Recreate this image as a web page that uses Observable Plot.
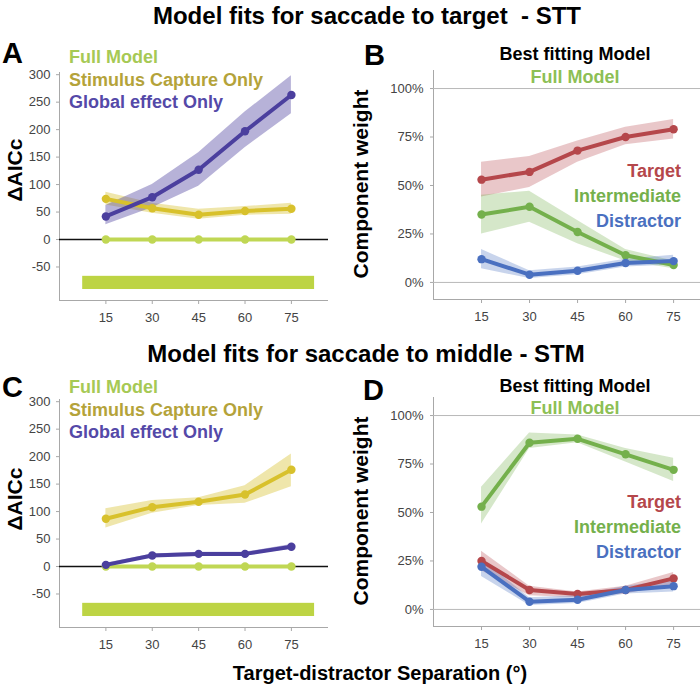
<!DOCTYPE html>
<html>
<head>
<meta charset="utf-8">
<script src="https://cdn.jsdelivr.net/npm/d3@7"></script>
<script src="https://cdn.jsdelivr.net/npm/@observablehq/plot@0.6"></script>
<style>
  body { margin: 0; background: #fff; }
  #fig { position: relative; width: 700px; height: 688px; font-family: "Liberation Sans", Arial, sans-serif; }
  #fig .panel { position: absolute; }
  #overlay { position: absolute; left: 0; top: 0; pointer-events: none; }
  #overlay text { font-family: "Liberation Sans", Arial, sans-serif; font-weight: bold; white-space: pre; }
</style>
</head>
<body>
<div id="fig"></div>
<script>
// ---------- data ----------
const separations = [15, 30, 45, 60, 75];
const aicTicks = [-50, 0, 50, 100, 150, 200, 250, 300];
const weightTicks = [0, 25, 50, 75, 100];

// Panel A: saccade to target (STT), ΔAICc
const sttFull = [0, 0, 0, 0, 0];
const sttCapture = [74, 57, 45, 52, 56];
const sttCaptureLo = [63, 48, 37, 44, 46];
const sttCaptureHi = [86, 66, 55, 60, 66];
const sttGlobal = [42, 77, 127, 197, 263];
const sttGlobalLo = [27, 58, 97, 167, 229];
const sttGlobalHi = [62, 100, 158, 232, 298];

// Panel B: STT component weights (%)
const sttTarget = [53, 57, 68, 75, 79];
const sttTargetLo = [44, 49, 62, 71, 74];
const sttTargetHi = [62, 65, 73, 80, 84];
const sttInter = [35, 39, 26, 14, 9];
const sttInterLo = [25, 31, 20, 11, 7];
const sttInterHi = [45, 47, 32, 17, 11];
const sttDist = [12, 4, 6, 10, 11];
const sttDistLo = [7, 2, 4, 8, 9];
const sttDistHi = [17, 6, 8, 12, 14];

// Panel C: saccade to middle (STM), ΔAICc
const stmFull = [0, 0, 0, 0, 0];
const stmCapture = [87, 108, 118, 131, 176];
const stmCaptureLo = [70, 97, 111, 115, 145];
const stmCaptureHi = [105, 120, 125, 147, 205];
const stmGlobal = [3, 20, 23, 23, 36];
const stmGlobalLo = [0, 17, 20, 20, 32];
const stmGlobalHi = [6, 23, 26, 26, 40];

// Panel D: STM component weights (%)
const stmTarget = [25, 10, 8, 10, 16];
const stmTargetLo = [20, 7, 6, 8, 13];
const stmTargetHi = [30, 12, 9, 12, 19];
const stmInter = [53, 86, 88, 80, 72];
const stmInterLo = [44, 83, 86, 76, 66];
const stmInterHi = [63, 91, 90, 83, 78];
const stmDist = [22, 4, 5, 10, 12];
const stmDistLo = [17, 2, 3, 8, 9];
const stmDistHi = [26, 6, 7, 12, 15];

// best fitting model indicator bar (spans all separations)
const bestBar = [{x1: 7.5, x2: 82.5, y1: -91, y2: -67}];

// ---------- styles ----------
const cFull = "#c0d754", cBar = "#bdd444", cCapture = "#d8c12c", cGlobal = "#4b3f9e";
const cTarget = "#b5474b", cInter = "#74b04c", cDist = "#4a70c0";
const axisGray = "#a8a8a8";
const aicX = [0, 87], aicY = [-111, 304];
const wX = [0, 83.4], wY = [-8.8, 109.3];

const baseStyle = {fontFamily: "'Liberation Sans', Arial, sans-serif", fontSize: "13px", background: "transparent", overflow: "visible", color: "#444"};

function rows(v, lo, hi) {
  return separations.map((s, i) => ({sep: s, v: v[i], lo: lo ? lo[i] : v[i], hi: hi ? hi[i] : v[i]}));
}
function bandMarks(data, color, op) {
  return [Plot.areaY(data, {x: "sep", y1: "lo", y2: "hi", fill: color, fillOpacity: op, curve: "linear"})];
}
function lineMarks(data, color) {
  return [
    Plot.line(data, {x: "sep", y: "v", stroke: color, strokeWidth: 4}),
    Plot.dot(data, {x: "sep", y: "v", fill: color, r: 4.2})
  ];
}

function aicPanel(full, cap, capLo, capHi, glob, globLo, globHi) {
  const f = rows(full), c = rows(cap, capLo, capHi), g = rows(glob, globLo, globHi);
  return Plot.plot({
    width: 340, height: 270, marginLeft: 59, marginRight: 12, marginTop: 12, marginBottom: 30,
    x: {domain: aicX}, y: {domain: aicY},
    style: baseStyle,
    marks: [
      Plot.ruleX([aicX[0]], {stroke: axisGray}),
      Plot.ruleY([aicY[0]], {stroke: axisGray}),
      Plot.axisY({ticks: aicTicks, tickFormat: v => String(v), tickSize: 3, tickPadding: 6, stroke: axisGray, fill: "#444", label: null}),
      Plot.axisX({ticks: separations, tickFormat: v => String(v), tickSize: 4, tickPadding: 8, stroke: axisGray, fill: "#444", label: null}),
      Plot.rect(bestBar, {x1: "x1", x2: "x2", y1: "y1", y2: "y2", fill: cBar}),
      Plot.ruleY([0], {stroke: "#111", strokeWidth: 1.6}),
      ...bandMarks(c, cCapture, 0.4),
      ...bandMarks(g, cGlobal, 0.4),
      ...lineMarks(f, cFull),
      ...lineMarks(c, cCapture),
      ...lineMarks(g, cGlobal)
    ]
  });
}

function weightPanel(t, tLo, tHi, m, mLo, mHi, d, dLo, dHi) {
  const T = rows(t, tLo, tHi), M = rows(m, mLo, mHi), D = rows(d, dLo, dHi);
  return Plot.plot({
    width: 360, height: 270, marginLeft: 93, marginRight: 0, marginTop: 10, marginBottom: 31,
    x: {domain: wX}, y: {domain: wY},
    style: baseStyle,
    marks: [
      Plot.ruleX([wX[0]], {stroke: axisGray}),
      Plot.ruleY([wY[0]], {stroke: axisGray}),
      Plot.ruleY([0, 100], {stroke: "#b8b8b8"}),
      Plot.axisY({ticks: weightTicks, tickFormat: v => v + "%", tickSize: 3, tickPadding: 7, stroke: axisGray, fill: "#444", label: null}),
      Plot.axisX({ticks: separations, tickFormat: v => String(v), tickSize: 4, tickPadding: 8, stroke: axisGray, fill: "#444", label: null}),
      ...bandMarks(T, cTarget, 0.3),
      ...bandMarks(M, cInter, 0.3),
      ...bandMarks(D, cDist, 0.3),
      ...lineMarks(T, cTarget),
      ...lineMarks(M, cInter),
      ...lineMarks(D, cDist)
    ]
  });
}

const fig = document.getElementById("fig");
function place(el, left, top) {
  el.classList.add("panel");
  el.style.left = left + "px";
  el.style.top = top + "px";
  fig.appendChild(el);
}
place(aicPanel(sttFull, sttCapture, sttCaptureLo, sttCaptureHi, sttGlobal, sttGlobalLo, sttGlobalHi), 0, 60);
place(weightPanel(sttTarget, sttTargetLo, sttTargetHi, sttInter, sttInterLo, sttInterHi, sttDist, sttDistLo, sttDistHi), 340, 60);
place(aicPanel(stmFull, stmCapture, stmCaptureLo, stmCaptureHi, stmGlobal, stmGlobalLo, stmGlobalHi), 0, 387);
place(weightPanel(stmTarget, stmTargetLo, stmTargetHi, stmInter, stmInterLo, stmInterHi, stmDist, stmDistLo, stmDistHi), 340, 387);

// ---------- text annotations ----------
const texts = [
  {t: "Model fits for saccade to target \u00a0- STT", x: 367, y: 24, s: 24, a: "middle", c: "#000"},
  {t: "Model fits for saccade to middle - STM", x: 366, y: 362, s: 24, a: "middle", c: "#000"},
  {t: "Target-distractor Separation (°)", x: 380, y: 680, s: 20, a: "middle", c: "#000"},
  {t: "A", x: 2, y: 63, s: 29, a: "start", c: "#000"},
  {t: "B", x: 364, y: 65, s: 29, a: "start", c: "#000"},
  {t: "C", x: 2, y: 397, s: 29, a: "start", c: "#000"},
  {t: "D", x: 363, y: 400, s: 29, a: "start", c: "#000"},
  {t: "Full Model", x: 69, y: 63, s: 18, a: "start", c: "#a6c955"},
  {t: "Stimulus Capture Only", x: 69, y: 86, s: 18, a: "start", c: "#b4a33a"},
  {t: "Global effect Only", x: 69, y: 108, s: 18, a: "start", c: "#5449a8"},
  {t: "Full Model", x: 69, y: 393, s: 18, a: "start", c: "#a6c955"},
  {t: "Stimulus Capture Only", x: 69, y: 416, s: 18, a: "start", c: "#b4a33a"},
  {t: "Global effect Only", x: 69, y: 438, s: 18, a: "start", c: "#5449a8"},
  {t: "Best fitting Model", x: 575, y: 60, s: 18, a: "middle", c: "#000"},
  {t: "Full Model", x: 575, y: 83, s: 18, a: "middle", c: "#8dbf55"},
  {t: "Best fitting Model", x: 575, y: 392, s: 18, a: "middle", c: "#000"},
  {t: "Full Model", x: 575, y: 414, s: 18, a: "middle", c: "#8dbf55"},
  {t: "Target", x: 681, y: 177, s: 18, a: "end", c: cTarget},
  {t: "Intermediate", x: 681, y: 202, s: 18, a: "end", c: cInter},
  {t: "Distractor", x: 681, y: 227, s: 18, a: "end", c: cDist},
  {t: "Target", x: 681, y: 508, s: 18, a: "end", c: cTarget},
  {t: "Intermediate", x: 681, y: 533, s: 18, a: "end", c: cInter},
  {t: "Distractor", x: 681, y: 558, s: 18, a: "end", c: cDist},
  {t: "ΔAICc", x: 22, y: 170, s: 21, a: "middle", c: "#000", r: true},
  {t: "ΔAICc", x: 22, y: 499, s: 21, a: "middle", c: "#000", r: true},
  {t: "Component weight", x: 368, y: 184, s: 21, a: "middle", c: "#000", r: true},
  {t: "Component weight", x: 368, y: 511, s: 21, a: "middle", c: "#000", r: true}
];
const svg = d3.select(fig).append("svg").attr("id", "overlay").attr("width", 700).attr("height", 688);
svg.selectAll("text").data(texts).join("text")
  .attr("transform", d => `translate(${d.x},${d.y})` + (d.r ? " rotate(-90)" : ""))
  .attr("text-anchor", d => d.a)
  .attr("font-size", d => d.s)
  .attr("fill", d => d.c)
  .text(d => d.t);
</script>
</body>
</html>
